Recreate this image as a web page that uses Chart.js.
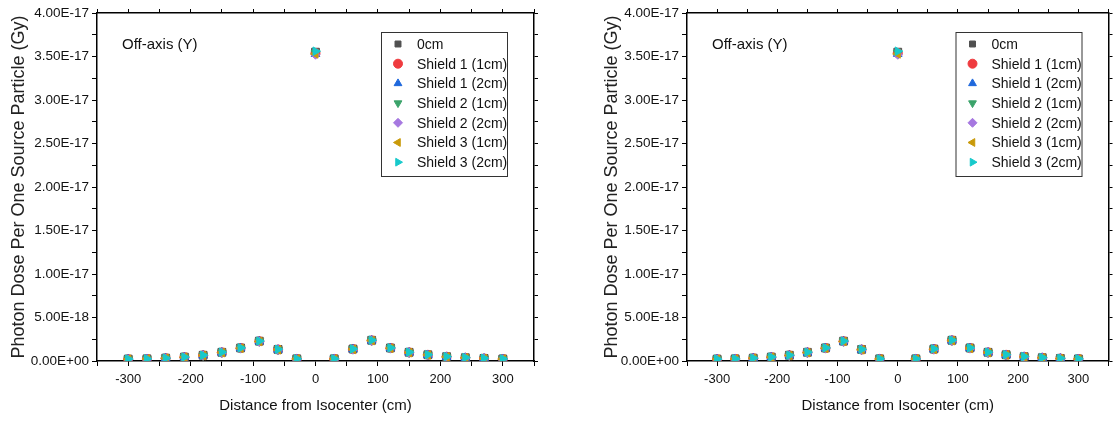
<!DOCTYPE html>
<html><head><meta charset="utf-8">
<script src="https://cdn.jsdelivr.net/npm/chart.js@4.4.1/dist/chart.umd.min.js"></script>
<style>
html,body{margin:0;padding:0;background:#fff;width:1115px;height:421px;overflow:hidden}
.box{position:absolute;top:0;height:421px}
#b1{left:0;width:557px}
#b2{left:595px;width:520px}
</style></head><body>
<div class="box" id="b1"><canvas id="c1"></canvas></div>
<div class="box" id="b2"><canvas id="c2"></canvas></div>
<script>
// ---- data ----
const distances = [-300,-270,-240,-210,-180,-150,-120,-90,-60,-30,0,30,60,90,120,150,180,210,240,270,300];
const seriesNames = ['0cm','Shield 1 (1cm)','Shield 1 (2cm)','Shield 2 (1cm)','Shield 2 (2cm)','Shield 3 (1cm)','Shield 3 (2cm)'];
const dose0cm     = [2.2e-19,2.5e-19,3.3e-19,4.5e-19,6.6e-19,1.00e-18,1.50e-18,2.28e-18,1.33e-18,2.5e-19,3.55e-17,2.5e-19,1.38e-18,2.38e-18,1.50e-18,1.00e-18,7.2e-19,5.0e-19,3.8e-19,3.0e-19,2.4e-19];
const doseS1_1cm  = [2.1e-19,2.4e-19,3.2e-19,4.4e-19,6.5e-19,9.9e-19,1.49e-18,2.27e-18,1.32e-18,2.4e-19,3.54e-17,2.4e-19,1.37e-18,2.37e-18,1.49e-18,9.9e-19,7.1e-19,4.9e-19,3.7e-19,2.9e-19,2.3e-19];
const doseS1_2cm  = [2.0e-19,2.3e-19,3.1e-19,4.3e-19,6.3e-19,9.7e-19,1.47e-18,2.25e-18,1.30e-18,2.3e-19,3.53e-17,2.3e-19,1.35e-18,2.35e-18,1.47e-18,9.7e-19,6.9e-19,4.7e-19,3.6e-19,2.8e-19,2.2e-19];
const doseS2_1cm  = [2.1e-19,2.4e-19,3.2e-19,4.4e-19,6.4e-19,9.8e-19,1.48e-18,2.26e-18,1.31e-18,2.4e-19,3.54e-17,2.4e-19,1.36e-18,2.36e-18,1.48e-18,9.8e-19,7.0e-19,4.8e-19,3.7e-19,2.9e-19,2.3e-19];
const doseS2_2cm  = [1.9e-19,2.2e-19,3.0e-19,4.2e-19,6.2e-19,9.5e-19,1.45e-18,2.22e-18,1.28e-18,2.2e-19,3.52e-17,2.2e-19,1.33e-18,2.32e-18,1.45e-18,9.5e-19,6.8e-19,4.6e-19,3.5e-19,2.7e-19,2.1e-19];
const doseS3_1cm  = [2.0e-19,2.3e-19,3.1e-19,4.3e-19,6.3e-19,9.6e-19,1.46e-18,2.24e-18,1.29e-18,2.3e-19,3.53e-17,2.3e-19,1.34e-18,2.34e-18,1.46e-18,9.6e-19,6.9e-19,4.7e-19,3.6e-19,2.8e-19,2.2e-19];
const doseS3_2cm  = [2.2e-19,2.5e-19,3.3e-19,4.5e-19,6.6e-19,1.01e-18,1.51e-18,2.29e-18,1.34e-18,2.5e-19,3.56e-17,2.5e-19,1.39e-18,2.39e-18,1.51e-18,1.01e-18,7.3e-19,5.1e-19,3.9e-19,3.1e-19,2.5e-19];
const seriesValues = [dose0cm,doseS1_1cm,doseS1_2cm,doseS2_1cm,doseS2_2cm,doseS3_1cm,doseS3_2cm];
const yTickValues = [0,5e-18,1e-17,1.5e-17,2e-17,2.5e-17,3e-17,3.5e-17,4e-17];
const yTickLabels = ['0.00E+00','5.00E-18','1.00E-17','1.50E-17','2.00E-17','2.50E-17','3.00E-17','3.50E-17','4.00E-17'];
const xTickValues = [-300,-200,-100,0,100,200,300];
const xTickLabels = ['-300','-200','-100','0','100','200','300'];
const annotationText = 'Off-axis (Y)';
const xTitle = 'Distance from Isocenter (cm)';
const yTitle = 'Photon Dose Per One Source Particle (Gy)';

// ---- styles ----
const colors = ['#505050','#ef3b3f','#1f68dc','#3aa36a','#a678e0','#c99a0a','#17c9cb'];
const styles = ['rect','circle','triangle','triangle','rectRot','triangle','triangle'];
const rotations = [0,0,0,180,0,-90,90];
const FONT = 'Liberation Sans, Arial, sans-serif';

function makeChart(canvasId, yAxisWidth, y2Width, titlePad){
  const datasets = seriesNames.map((name,i)=>({
    label: name,
    data: distances.map((d,k)=>({x:d,y:seriesValues[i][k]})),
    showLine:false,
    pointStyle: styles[i],
    pointRotation: rotations[i],
    pointRadius: styles[i]==='rect'?5.5:(styles[i]==='triangle'?5:4.5),
    backgroundColor: colors[i],
    borderColor: colors[i],
    borderWidth: 1,
    order: 6 - i
  }));
  const minorX = []; for (let v=-350; v<=350; v+=50) minorX.push(v);
  const minorY = []; for (let i=0;i<=16;i++) minorY.push(i*2.5e-18);
  const gridOpts = {display:true, drawOnChartArea:false, drawTicks:true, tickLength:5, color:'#000', tickColor:'#000', lineWidth:1};
  const borderOpts = {display:true, color:'#000', width:1.5};
  const legendPlugin = {
    id:'inlegend',
    afterDraw(chart){
      const ctx = chart.ctx, a = chart.chartArea;
      ctx.save();
      ctx.fillStyle = '#111';
      ctx.font = '15px ' + FONT;
      ctx.textBaseline = 'middle';
      ctx.textAlign = 'left';
      ctx.fillText(annotationText, a.left + 25, 45);
      const bx = a.right - 153, by = 32, bw = 126, bh = 144;
      ctx.strokeStyle = '#333'; ctx.lineWidth = 1;
      ctx.strokeRect(bx + 0.5, by + 0.5, bw, bh);
      ctx.font = '14px ' + FONT;
      seriesNames.forEach((name,i)=>{
        const yy = by + 12 + i*19.7;
        ctx.fillStyle = colors[i]; ctx.strokeStyle = colors[i];
        Chart.helpers.drawPoint(ctx, {pointStyle: styles[i], rotation: rotations[i], radius: styles[i]==='rect'?4.2:4.5, borderWidth:1}, bx + 17, yy);
        ctx.fillStyle = '#111';
        ctx.fillText(name, bx + 36, yy + 1);
      });
      ctx.restore();
    }
  };
  return new Chart(document.getElementById(canvasId), {
    type:'scatter',
    data:{datasets},
    plugins:[legendPlugin],
    options:{
      responsive:true, maintainAspectRatio:false, animation:false,
      layout:{padding:0},
      plugins:{legend:{display:false}, tooltip:{enabled:false}},
      scales:{
        x:{type:'linear', position:'bottom', min:-350, max:350,
           grid:gridOpts, border:borderOpts,
           afterBuildTicks(s){ s.ticks = minorX.map(v=>({value:v})); },
           ticks:{color:'#111', font:{family:FONT, size:13}, padding:6, maxRotation:0, autoSkip:false,
             callback(v){ const k = xTickValues.indexOf(v); return k>=0 ? xTickLabels[k] : ''; }},
           title:{display:true, text:xTitle, color:'#111', font:{family:FONT, size:15}, padding:{top:4,bottom:6}},
           afterFit(s){ s.height = 60; }},
        x2:{type:'linear', position:'top', min:-350, max:350,
           grid:Object.assign({}, gridOpts, {tickLength:4}), border:borderOpts,
           afterBuildTicks(s){ s.ticks = minorX.map(v=>({value:v})); },
           ticks:{display:false},
           afterFit(s){ s.height = 13; }},
        y:{type:'linear', position:'left', min:0, max:4e-17,
           grid:gridOpts, border:borderOpts,
           afterBuildTicks(s){ s.ticks = minorY.map(v=>({value:v})); },
           ticks:{color:'#111', font:{family:FONT, size:13.5}, padding:3, autoSkip:false,
             callback(v, idx){ return idx%2===0 ? yTickLabels[idx/2] : ''; }},
           title:{display:true, text:yTitle, color:'#222', font:{family:FONT, size:18}, padding:{top:titlePad,bottom:0}},
           afterFit(s){ s.width = yAxisWidth; }},
        y2:{type:'linear', position:'right', min:0, max:4e-17,
           grid:Object.assign({}, gridOpts, {tickLength:4}), border:borderOpts,
           afterBuildTicks(s){ s.ticks = minorY.map(v=>({value:v})); },
           ticks:{display:false},
           afterFit(s){ s.width = y2Width; }}
      }
    }
  });
}
makeChart('c1', 97, 23, 8);
makeChart('c2', 92, 2, 6);
</script>
</body></html>
